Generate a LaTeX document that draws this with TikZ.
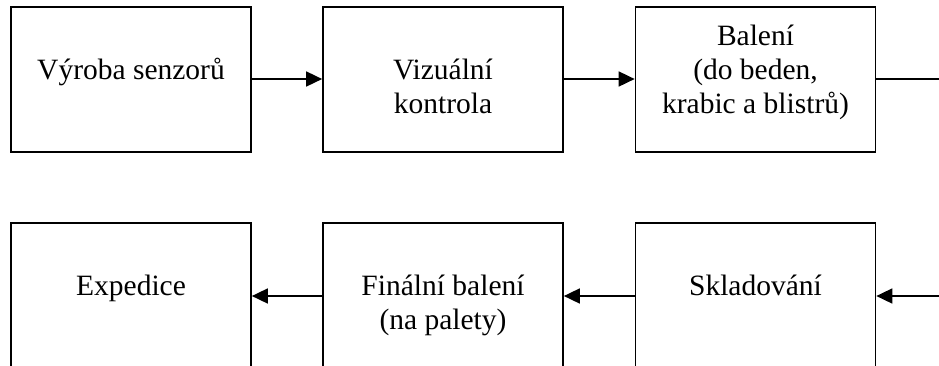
\documentclass[tikz,border=0pt]{standalone}
\usepackage{fontspec}
\setmainfont{Liberation Serif}
\usetikzlibrary{arrows.meta}
\begin{document}
\begin{tikzpicture}[x=1pt,y=-1pt,
  box/.style={draw=black,line width=1.7pt,minimum width=240pt,minimum height=145pt,inner sep=0pt},
  txt/.style={font=\fontsize{29.5}{34}\selectfont,align=center,inner sep=0pt,anchor=base},
  conn/.style={line width=1.7pt,-{Triangle[length=16pt,width=15pt]}},
  plain/.style={line width=1.7pt}]
\useasboundingbox (0,0) rectangle (939,365);
% boxes
\node[box] (b1) at (131,79.5) {};
\node[box] (b2) at (443,79.5) {};
\node[box] (b3) at (755.5,79.5) {};
\node[box] (b4) at (131,295.5) {};
\node[box] (b5) at (443,295.5) {};
\node[box] (b6) at (755.5,295.5) {};
% texts
\node[txt] (t1) at (131,79) {Výroba senzorů};
\node[txt] (t2) at (443,113) {Vizuální\\kontrola};
\node[txt] (t3) at (755.5,113) {Balení\\(do beden,\\krabic a blistrů)};
\node[txt] (t4) at (131,295) {Expedice};
\node[txt] (t5) at (443,329) {Finální balení\\(na palety)};
\node[txt] (t6) at (755.5,295) {Skladování};
% free ends
\coordinate (e1) at (939,79);
\coordinate (e2) at (939,296);
% connectors
\draw[conn] (b1.east |- e1) -- (b2.west |- e1);
\draw[conn] (b2.east |- e1) -- (b3.west |- e1);
\draw[plain] (b3.east |- e1) -- (e1);
\draw[conn] (e2) -- (b6.east |- e2);
\draw[conn] (b6.west |- e2) -- (b5.east |- e2);
\draw[conn] (b5.west |- e2) -- (b4.east |- e2);
\end{tikzpicture}
\end{document}
